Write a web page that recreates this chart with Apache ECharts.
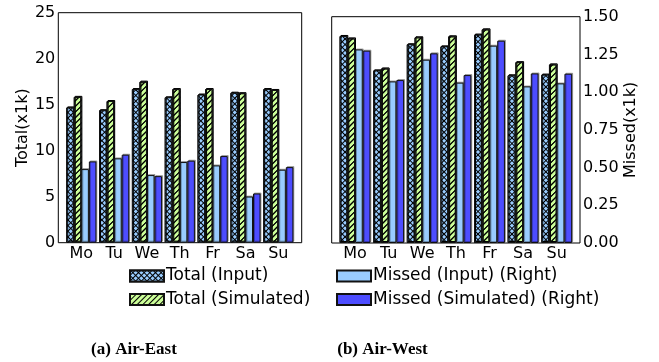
<!DOCTYPE html>
<html>
<head>
<meta charset="utf-8">
<script src="https://cdn.jsdelivr.net/npm/echarts@6/dist/echarts.min.js"></script>
<style>
html,body{margin:0;padding:0;background:#fff;}
#c{width:659px;height:362px;}
</style>
</head>
<body>
<div id="c"></div>
<script>
// ---- data ----
const days = ['Mo', 'Tu', 'We', 'Th', 'Fr', 'Sa', 'Su'];
// Air-East (Total on left axis, x1k; Missed on right axis, x1k)
const eastTotalInput = [14.7, 14.4, 16.7, 15.8, 16.1, 16.3, 16.7];
const eastTotalSim = [15.85, 15.4, 17.5, 16.7, 16.7, 16.25, 16.6];
const eastMissedInput = [0.48, 0.55, 0.441, 0.526, 0.504, 0.301, 0.476];
const eastMissedSim = [0.53, 0.574, 0.434, 0.535, 0.565, 0.321, 0.493];
// Air-West
const westTotalInput = [22.87, 19.07, 21.95, 21.72, 23.02, 18.52, 18.6];
const westTotalSim = [22.6, 19.28, 22.72, 22.83, 23.6, 19.98, 19.73];
const westMissedInput = [1.283, 1.071, 1.215, 1.063, 1.308, 1.038, 1.058];
const westMissedSim = [1.275, 1.080, 1.257, 1.113, 1.341, 1.124, 1.122];
// axes
const totalAxis = { min: 0, max: 25, interval: 5, name: 'Total(x1k)' };
const missedAxis = { min: 0, max: 1.5, interval: 0.25, name: 'Missed(x1k)' };
const seriesNames = ['Total (Input)', 'Total (Simulated)', 'Missed (Input) (Right)', 'Missed (Simulated) (Right)'];
const captions = ['(a) Air-East', '(b) Air-West'];

const FONT = 'DejaVu Sans';
const chart = echarts.init(document.getElementById('c'), null, { renderer: 'canvas' });

const styles = [
  { color: '#000000', borderColor: '#111', borderWidth: 1,
    decal: { symbol: 'rect', symbolSize: 1, color: '#99ccff', dashArrayX: [3, 1], dashArrayY: [3, 1], rotation: Math.PI / 4 } },
  { color: '#ccff99', borderColor: '#111', borderWidth: 1,
    decal: { symbol: 'rect', symbolSize: 1, color: '#000000', dashArrayX: [1, 0], dashArrayY: [1, 3], rotation: -Math.PI / 4 } },
  { color: '#99ccff', borderColor: '#111', borderWidth: 1 },
  { color: '#4d4dff', borderColor: '#111', borderWidth: 1 }
];
styles.forEach(s => { s.shadowColor = 'rgba(0,0,0,0.3)'; s.shadowOffsetX = 1; s.shadowOffsetY = -1; s.shadowBlur = 0; });

const frameGrids = [
  { left: 58.3, right: 357.3, top: 12.7, bottom: 119.3 },
  { left: 331.7, right: 79, top: 16.7, bottom: 119 }
];
const dataGrids = [
  { left: 64.9, right: 364.3, top: 12.7, bottom: 119.3 },
  { left: 338.2, right: 85.5, top: 16.7, bottom: 119 }
];

const grid = [];
frameGrids.forEach(g => grid.push(Object.assign({ show: true, borderColor: '#000', borderWidth: 1, backgroundColor: 'transparent' }, g)));
dataGrids.forEach(g => grid.push(Object.assign({ show: false }, g)));

const xAxis = [0, 1, 2, 3].map(i => ({
  type: 'category', gridIndex: i, data: days, show: i >= 2,
  axisLine: { show: false }, axisTick: { show: false },
  axisLabel: { fontFamily: FONT, fontSize: 16, color: '#000', margin: 3 }
}));

const labelStyle = { fontFamily: FONT, fontSize: 16, color: '#000' };
const yAxis = [
  { type: 'value', gridIndex: 0, position: 'left', min: totalAxis.min, max: totalAxis.max, interval: totalAxis.interval,
    name: totalAxis.name, nameLocation: 'middle', nameGap: 25, nameTextStyle: labelStyle,
    axisLine: { show: false }, axisTick: { show: false }, splitLine: { show: false },
    axisLabel: Object.assign({ margin: 3 }, labelStyle) },
  { type: 'value', gridIndex: 1, position: 'right', min: missedAxis.min, max: missedAxis.max, interval: missedAxis.interval,
    name: missedAxis.name, nameLocation: 'middle', nameGap: 42, nameTextStyle: labelStyle,
    axisLine: { show: false }, axisTick: { show: false }, splitLine: { show: false },
    axisLabel: Object.assign({ margin: 3, formatter: v => v.toFixed(2) }, labelStyle) },
  { type: 'value', gridIndex: 2, position: 'left', min: totalAxis.min, max: totalAxis.max, show: false, splitLine: { show: false } },
  { type: 'value', gridIndex: 2, position: 'right', min: missedAxis.min, max: missedAxis.max, show: false, splitLine: { show: false } },
  { type: 'value', gridIndex: 3, position: 'left', min: totalAxis.min, max: totalAxis.max, show: false, splitLine: { show: false } },
  { type: 'value', gridIndex: 3, position: 'right', min: missedAxis.min, max: missedAxis.max, show: false, splitLine: { show: false } }
];

const eastData = [eastTotalInput, eastTotalSim, eastMissedInput, eastMissedSim];
const westData = [westTotalInput, westTotalSim, westMissedInput, westMissedSim];
const series = [];
[[eastData, 2, 2, 3], [westData, 3, 4, 5]].forEach(([sets, xi, yl, yr]) => {
  sets.forEach((vals, k) => {
    series.push({
      type: 'bar', name: seriesNames[k], data: vals,
      xAxisIndex: xi, yAxisIndex: k < 2 ? yl : yr,
      barGap: '0%', barCategoryGap: '8%',
      itemStyle: styles[k], emphasis: { disabled: true },
      animation: false
    });
  });
});

const legendBase = {
  orient: 'vertical', itemWidth: 34, itemHeight: 11, itemGap: 6.6, icon: 'rect',
  textStyle: { fontFamily: FONT, fontSize: 17, color: '#000', lineHeight: 17, padding: [0, 0, 0, -3] },
  selectedMode: false, padding: 0
};

chart.setOption({
  animation: false,
  backgroundColor: '#fff',
  grid, xAxis, yAxis, series,
  legend: [
    Object.assign({ left: 129, top: 267.5, data: seriesNames.slice(0, 2) }, legendBase),
    Object.assign({ left: 336, top: 267.5, data: seriesNames.slice(2, 4) }, legendBase)
  ],
  graphic: [
    { type: 'text', x: 134, y: 350, style: { text: captions[0], font: 'bold 17px "Liberation Serif"', fill: '#000', textAlign: 'center', textVerticalAlign: 'middle' } },
    { type: 'text', x: 382.5, y: 350, style: { text: captions[1], font: 'bold 17px "Liberation Serif"', fill: '#000', textAlign: 'center', textVerticalAlign: 'middle' } }
  ]
});
</script>
</body>
</html>
